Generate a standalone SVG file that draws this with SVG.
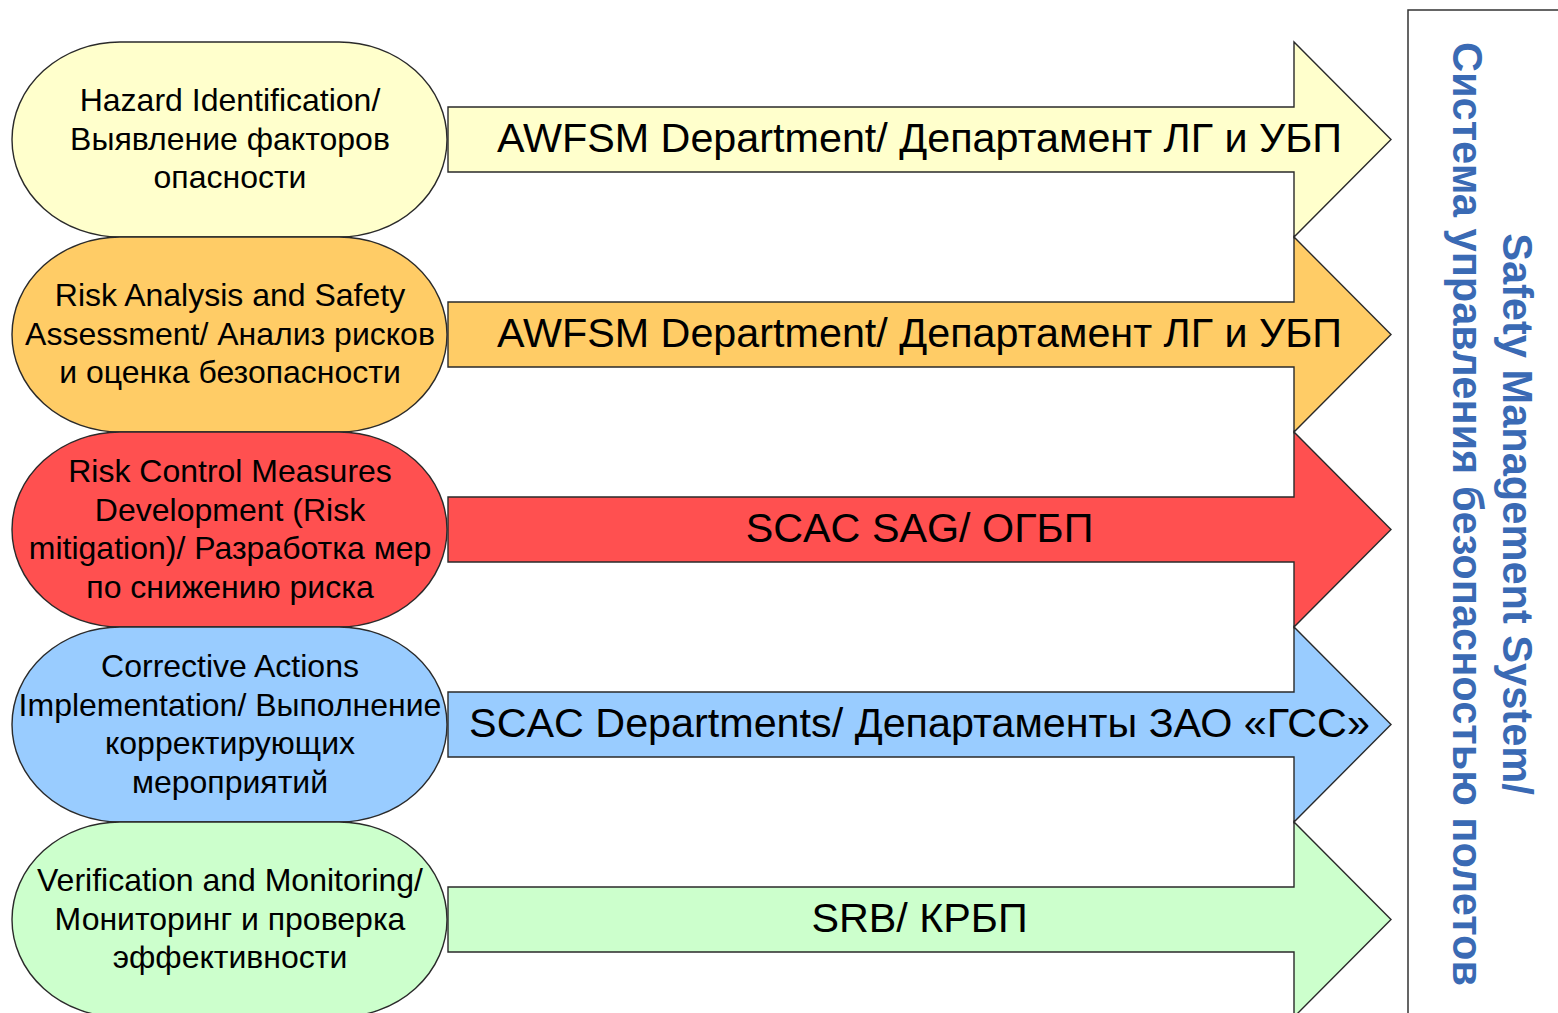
<svg xmlns="http://www.w3.org/2000/svg" width="1558" height="1013" viewBox="0 0 1558 1013">
  <style>
    .shape { stroke: #2a2a2a; stroke-width: 1.4; }
    .ntext { font-family: "Liberation Sans", Arial, sans-serif; font-size: 32px; fill: #000; text-anchor: middle; }
    .atext { font-family: "Liberation Sans", Arial, sans-serif; font-size: 41.3px; fill: #000; text-anchor: middle; }
    .vtext { font-family: "Liberation Sans", Arial, sans-serif; font-size: 41.6px; font-weight: bold; fill: #3a6ab4; text-anchor: middle; }
    .c1 { fill: #ffffcc; } .c2 { fill: #ffcc66; } .c3 { fill: #ff5050; } .c4 { fill: #99ccff; } .c5 { fill: #ccffcc; }
  </style>
  <rect width="1558" height="1013" fill="#ffffff"/>

  <g id="system-box">
    <path d="M1408,1013 V10 H1558" fill="none" stroke="#333" stroke-width="1.5"/>
    <g transform="translate(1453,514) rotate(90)">
      <text class="vtext" x="0" y="-50">Safety Management System/</text>
      <text class="vtext" x="0" y="0">Система управления безопасностью полетов</text>
    </g>
  </g>

  <g id="arrows">
    <g id="arrow1">
      <path class="shape c1" d="M448,107 H1294 V42 L1391,139.5 L1294,237 V172 H448 Z"/>
      <text class="atext" x="919.5" y="152">AWFSM Department/ Департамент ЛГ и УБП</text>
    </g>
    <g id="arrow2">
      <path class="shape c2" d="M448,302 H1294 V237 L1391,334.5 L1294,432 V367 H448 Z"/>
      <text class="atext" x="919.5" y="347">AWFSM Department/ Департамент ЛГ и УБП</text>
    </g>
    <g id="arrow3">
      <path class="shape c3" d="M448,497 H1294 V432 L1391,529.5 L1294,627 V562 H448 Z"/>
      <text class="atext" x="919.5" y="542">SCAC SAG/ ОГБП</text>
    </g>
    <g id="arrow4">
      <path class="shape c4" d="M448,692 H1294 V627 L1391,724.5 L1294,822 V757 H448 Z"/>
      <text class="atext" x="919.5" y="737">SCAC Departments/ Департаменты ЗАО «ГСС»</text>
    </g>
    <g id="arrow5">
      <path class="shape c5" d="M448,887 H1294 V822 L1391,919.5 L1294,1017 V952 H448 Z"/>
      <text class="atext" x="919.5" y="932">SRB/ КРБП</text>
    </g>
  </g>

  <g id="node1">
    <rect class="shape c1" x="12" y="42" width="435" height="195" rx="108" ry="97.5"/>
    <text class="ntext" x="230" y="111">Hazard Identification/</text>
    <text class="ntext" x="230" y="149.5">Выявление факторов</text>
    <text class="ntext" x="230" y="188">опасности</text>
  </g>
  <g id="node2">
    <rect class="shape c2" x="12" y="237" width="435" height="195" rx="108" ry="97.5"/>
    <text class="ntext" x="230" y="306">Risk Analysis and Safety</text>
    <text class="ntext" x="230" y="344.5">Assessment/ Анализ рисков</text>
    <text class="ntext" x="230" y="383">и оценка безопасности</text>
  </g>
  <g id="node3">
    <rect class="shape c3" x="12" y="432" width="435" height="195" rx="108" ry="97.5"/>
    <text class="ntext" x="230" y="482">Risk Control Measures</text>
    <text class="ntext" x="230" y="520.5">Development (Risk</text>
    <text class="ntext" x="230" y="559">mitigation)/ Разработка мер</text>
    <text class="ntext" x="230" y="597.5">по снижению риска</text>
  </g>
  <g id="node4">
    <rect class="shape c4" x="12" y="627" width="435" height="195" rx="108" ry="97.5"/>
    <text class="ntext" x="230" y="677">Corrective Actions</text>
    <text class="ntext" x="230" y="715.5">Implementation/ Выполнение</text>
    <text class="ntext" x="230" y="754">корректирующих</text>
    <text class="ntext" x="230" y="792.5">мероприятий</text>
  </g>
  <g id="node5">
    <rect class="shape c5" x="12" y="822" width="435" height="195" rx="108" ry="97.5"/>
    <text class="ntext" x="230" y="891">Verification and Monitoring/</text>
    <text class="ntext" x="230" y="929.5">Мониторинг и проверка</text>
    <text class="ntext" x="230" y="968">эффективности</text>
  </g>
</svg>
